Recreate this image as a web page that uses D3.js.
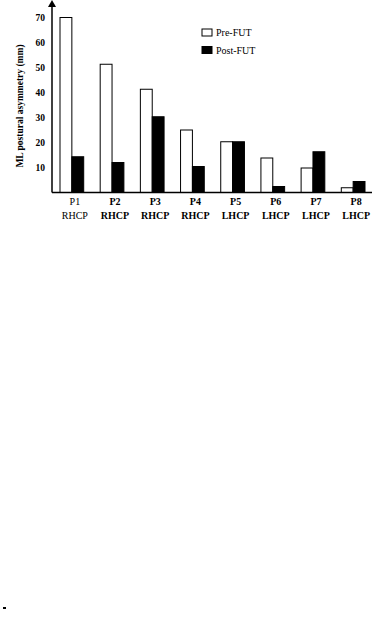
<!DOCTYPE html>
<html>
<head>
<meta charset="utf-8">
<script src="https://cdn.jsdelivr.net/npm/d3@7"></script>
<style>
  body { margin: 0; background: #fff; }
  svg text { font-family: "Liberation Serif", "Times New Roman", serif; }
</style>
</head>
<body>
<div id="chart"></div>
<script>
let patients = ["P1", "P2", "P3", "P4", "P5", "P6", "P7", "P8"]
let sides = ["RHCP", "RHCP", "RHCP", "RHCP", "LHCP", "LHCP", "LHCP", "LHCP"]
let preFut = [70, 51.3, 41.3, 25, 20.3, 13.8, 9.8, 1.9]
let postFut = [14.3, 12, 30.3, 10.4, 20.3, 2.4, 16.3, 4.4]
let yTicks = [10, 20, 30, 40, 50, 60, 70]
let seriesNames = ["Pre-FUT", "Post-FUT"]

let width = 378, height = 618

let svg = d3.select('#chart')
    .append('svg')
    .attr('width', width)
    .attr('height', height)

let x = d3.scaleBand()
    .domain(patients)
    .range([60, 365])
    .paddingInner(0.41)
    .paddingOuter(0)

let xInner = d3.scaleBand()
    .domain(seriesNames)
    .range([0, x.bandwidth()])

let y = d3.scaleLinear()
    .domain([0, 70])
    .range([192.5, 17.5])

let rows = patients.map((p, i) => ({ p: p, side: sides[i], pre: preFut[i], post: postFut[i] }))

// bars
let groups = svg.append('g')
    .selectAll('g')
    .data(rows)
    .join('g')
    .attr('transform', d => `translate(${x(d.p)},0)`)

groups.append('rect')
    .attr('x', xInner("Pre-FUT"))
    .attr('y', d => y(d.pre))
    .attr('width', xInner.bandwidth())
    .attr('height', d => y(0) - y(d.pre))
    .attr('fill', '#fff')
    .attr('stroke', '#000')
    .attr('stroke-width', 1)

groups.append('rect')
    .attr('x', xInner("Post-FUT"))
    .attr('y', d => y(d.post))
    .attr('width', xInner.bandwidth())
    .attr('height', d => y(0) - y(d.post))
    .attr('fill', '#000')
    .attr('stroke', '#000')
    .attr('stroke-width', 1)

// y axis
let yAxis = svg.append('g')
    .attr('transform', 'translate(52,0)')
    .call(d3.axisLeft(y).tickValues(yTicks).tickSize(0).tickPadding(7))

yAxis.select('.domain').remove()
yAxis.selectAll('text')
    .attr('font-family', '"Liberation Serif", serif')
    .attr('font-size', 9.5)
    .attr('font-weight', 'bold')
    .attr('fill', '#000')

svg.append('line')
    .attr('x1', 52).attr('x2', 52)
    .attr('y1', 6).attr('y2', y(0))
    .attr('stroke', '#000')
    .attr('stroke-width', 1.5)

svg.append('path')
    .attr('d', 'M52,0 L48,7 L56,7 Z')
    .attr('fill', '#000')

// baseline
svg.append('line')
    .attr('x1', 52).attr('x2', 372)
    .attr('y1', y(0)).attr('y2', y(0))
    .attr('stroke', '#000')
    .attr('stroke-width', 1.5)

// category labels
let labels = svg.append('g')
    .selectAll('g')
    .data(rows)
    .join('g')
    .attr('transform', d => `translate(${x(d.p) + x.bandwidth() / 2 + 3},0)`)
    .attr('font-size', 10)
    .attr('font-weight', (d, i) => i == 0 ? 'normal' : 'bold')
    .attr('text-anchor', 'middle')

labels.append('text')
    .attr('y', 205)
    .text(d => d.p)

labels.append('text')
    .attr('y', 219)
    .text(d => d.side)

// y label
svg.append('text')
    .attr('transform', 'translate(23,106) rotate(-90)')
    .attr('text-anchor', 'middle')
    .attr('font-size', 9.5)
    .attr('font-weight', 'bold')
    .text('ML postural asymmetry (mm)')

// legend
let legend = svg.append('g')
    .selectAll('g')
    .data(seriesNames)
    .join('g')
    .attr('transform', (d, i) => `translate(202,${29 + i * 17.5})`)

legend.append('rect')
    .attr('width', 10)
    .attr('height', 7)
    .attr('fill', (d, i) => i == 0 ? '#fff' : '#000')
    .attr('stroke', '#000')
    .attr('stroke-width', 1)

legend.append('text')
    .attr('x', 14)
    .attr('y', 7)
    .attr('font-size', 10)
    .text(d => d)

// stray mark bottom left
svg.append('rect')
    .attr('x', 3).attr('y', 607)
    .attr('width', 3).attr('height', 2)
    .attr('fill', '#000')
</script>
</body>
</html>
